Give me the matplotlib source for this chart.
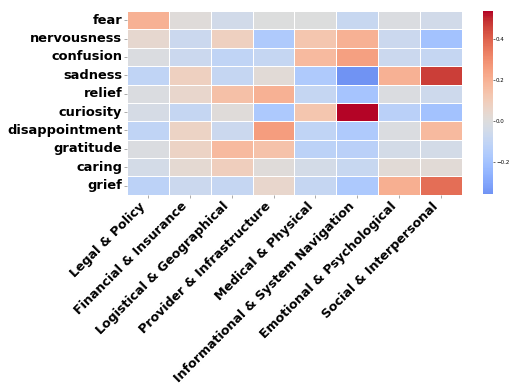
import matplotlib
matplotlib.use("Agg")
import matplotlib.pyplot as plt
import numpy as np
import pandas as pd
import seaborn as sns

# emotions (rows) vs. need categories (columns)
emotions = ["fear", "nervousness", "confusion", "sadness", "relief",
            "curiosity", "disappointment", "gratitude", "caring", "grief"]
categories = ["Legal & Policy", "Financial & Insurance", "Logistical & Geographical",
              "Provider & Infrastructure", "Medical & Physical",
              "Informational & System Navigation", "Emotional & Psychological",
              "Social & Interpersonal"]

fear           = [0.20, 0.01, -0.05, 0.00, 0.00, -0.08, -0.01, -0.05]
nervousness    = [0.04, -0.07, 0.08, -0.16, 0.13, 0.20, -0.07, -0.20]
confusion      = [-0.01, -0.07, -0.11, -0.09, 0.17, 0.25, -0.07, -0.09]
sadness        = [-0.11, 0.08, -0.09, 0.02, -0.16, -0.355, 0.20, 0.47]
relief         = [-0.01, 0.05, 0.15, 0.20, -0.09, -0.19, -0.01, -0.06]
curiosity      = [-0.03, -0.09, 0.01, -0.17, 0.13, 0.54, -0.13, -0.20]
disappointment = [-0.11, 0.07, -0.07, 0.26, -0.11, -0.16, -0.01, 0.17]
gratitude      = [-0.01, 0.07, 0.17, 0.14, -0.12, -0.13, -0.04, -0.04]
caring         = [-0.04, 0.03, 0.09, 0.01, -0.04, -0.08, 0.02, 0.02]
grief          = [-0.12, -0.07, -0.09, 0.05, -0.09, -0.17, 0.21, 0.37]

df = pd.DataFrame([fear, nervousness, confusion, sadness, relief, curiosity,
                   disappointment, gratitude, caring, grief],
                  index=emotions, columns=categories)

fig = plt.figure(figsize=(5.09, 3.92), dpi=100)
ax = fig.add_axes([0.2495, 0.503, 0.658, 0.469])
cax = fig.add_axes([0.949, 0.505, 0.0187, 0.468])

sns.heatmap(df, cmap="coolwarm", center=0, linewidths=0.5, linecolor="white",
            ax=ax, cbar_ax=cax)

ax.set_xticklabels(categories, rotation=45, ha="right",
                   fontsize=9.1, fontweight="bold")
ax.set_yticklabels(emotions, rotation=0, fontsize=9.4, fontweight="bold")
ax.tick_params(axis="both", length=2, width=0.5, color="#888888", pad=1.5)
cax.set_yticks([-0.2, 0.0, 0.2, 0.4])
cax.tick_params(labelsize=4, length=1.5, width=0.4, pad=1)
for s in cax.spines.values():
    s.set_visible(False)

fig.savefig("out.png", dpi=100)
